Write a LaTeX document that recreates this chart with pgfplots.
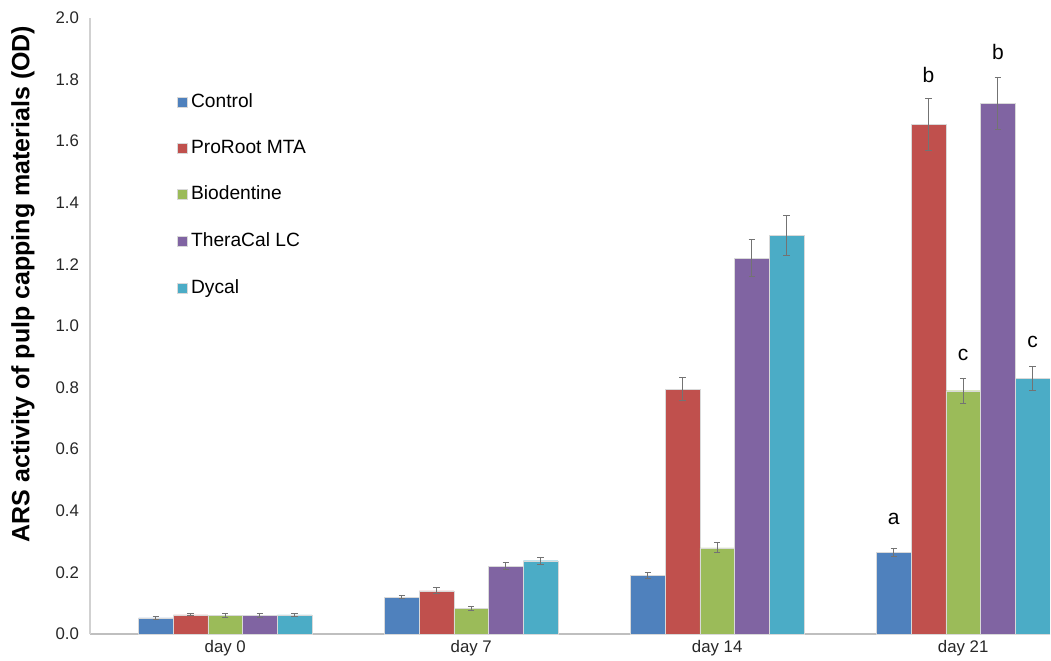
\documentclass[border=0pt]{standalone}
\usepackage{pgfplots}
\pgfplotsset{compat=1.18}
\usepackage{fontspec}
\setmainfont{Liberation Sans}
\definecolor{cControl}{HTML}{4F81BD}
\definecolor{cMTA}{HTML}{C0504D}
\definecolor{cBio}{HTML}{9BBB59}
\definecolor{cThera}{HTML}{8064A2}
\definecolor{cDycal}{HTML}{4BACC6}
\begin{document}
\begin{tikzpicture}
\begin{axis}[
  scale only axis,
  width=480pt, height=308pt,
  ybar=0pt, bar width=0.141,
  ymin=0, ymax=2.0,
  xmin=-0.55, xmax=3.353,
  ytick distance=0.2,
  xtick={0,1,2,3},
  xticklabels={day 0,day 7,day 14,day 21},
  y tick label style={/pgf/number format/fixed, /pgf/number format/fixed zerofill, /pgf/number format/precision=1},
  /pgf/number format/assume math mode=true,
  tick label style={font=\fontsize{8.4}{10}\selectfont, text=black!85},
  major tick length=0pt,
  axis x line*=bottom, axis y line*=left,
  x axis line style={draw=black!25, line width=0.6pt, -},
  y axis line style={draw=black!18, line width=0.6pt, -},
  xticklabel style={yshift=0.5pt},
  yticklabel style={xshift=-2pt},
  ylabel={ARS activity of pulp capping materials (OD)},
  ylabel style={font=\bfseries\fontsize{12.5}{14}\selectfont, at={(axis description cs:-0.0698,0.568)}, anchor=center},
  legend style={at={(axis description cs:0.09,0.885)}, anchor=north west, draw=none, fill=none,
    font=\fontsize{9.6}{11}\selectfont, row sep=10.9pt, inner sep=0pt},
  legend cell align=left,
  legend image code/.code={\fill[#1] (0pt,-2.5pt) rectangle (5pt,2.5pt);},
  every axis plot/.append style={draw=white!85!black, line width=0.15pt,
    error bars/y dir=both, error bars/y explicit,
    error bars/error bar style={draw=black!55, line width=0.5pt},
    error bars/error mark options={rotate=90, mark size=1.6pt, draw=black!55, line width=0.5pt}},
]
\addplot[fill=cControl] coordinates {(0,0.052) +- (0,0.004) (1,0.120) +- (0,0.006) (2,0.190) +- (0,0.010) (3,0.265) +- (0,0.014)};
\addplot[fill=cMTA] coordinates {(0,0.062) +- (0,0.003) (1,0.140) +- (0,0.010) (2,0.795) +- (0,0.038) (3,1.655) +- (0,0.085)};
\addplot[fill=cBio] coordinates {(0,0.060) +- (0,0.005) (1,0.083) +- (0,0.006) (2,0.280) +- (0,0.016) (3,0.790) +- (0,0.040)};
\addplot[fill=cThera] coordinates {(0,0.060) +- (0,0.005) (1,0.220) +- (0,0.012) (2,1.220) +- (0,0.060) (3,1.722) +- (0,0.085)};
\addplot[fill=cDycal] coordinates {(0,0.062) +- (0,0.004) (1,0.238) +- (0,0.012) (2,1.295) +- (0,0.065) (3,0.830) +- (0,0.040)};
\legend{Control,ProRoot MTA,Biodentine,TheraCal LC,Dycal}
\node[font=\fontsize{10.5}{12}\selectfont] at (axis cs:2.718,0.373) {a};
\node[font=\fontsize{10.5}{12}\selectfont] at (axis cs:2.859,1.815) {b};
\node[font=\fontsize{10.5}{12}\selectfont] at (axis cs:3.0,0.906) {c};
\node[font=\fontsize{10.5}{12}\selectfont] at (axis cs:3.141,1.89) {b};
\node[font=\fontsize{10.5}{12}\selectfont] at (axis cs:3.282,0.948) {c};
\end{axis}
\pgfresetboundingbox
\path[use as bounding box] (-45pt,-13pt) rectangle (480.5pt,317pt);
\end{tikzpicture}
\end{document}
